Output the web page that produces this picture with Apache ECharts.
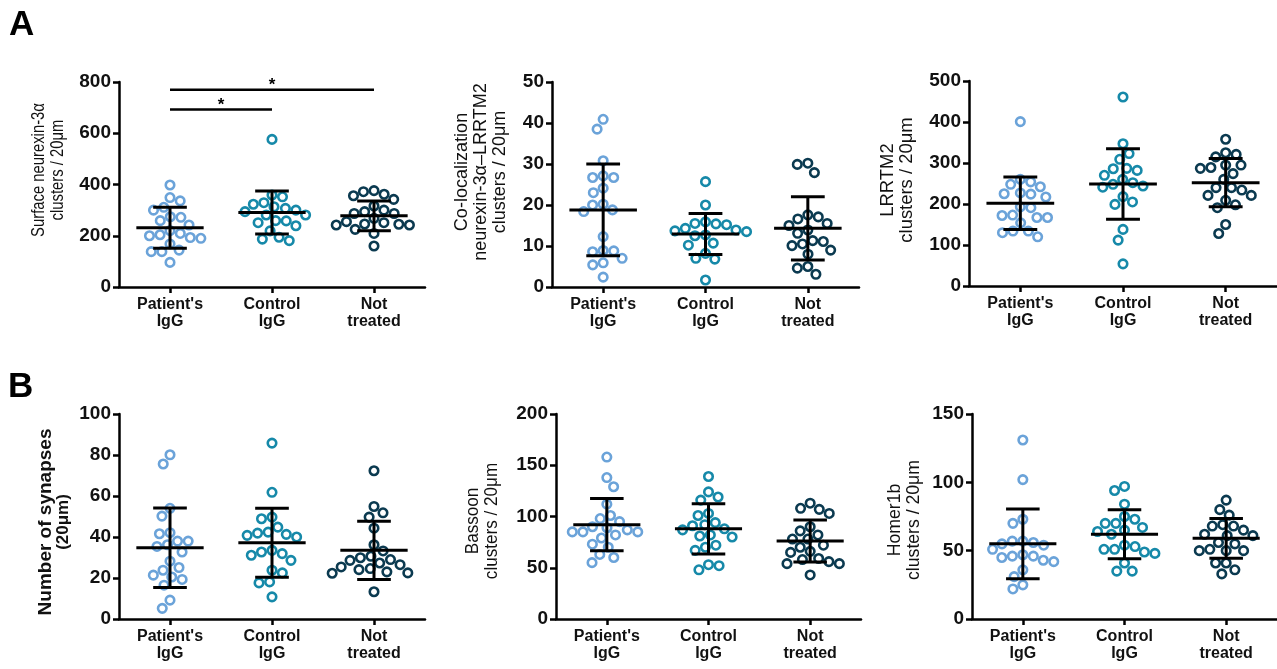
<!DOCTYPE html>
<html><head><meta charset="utf-8">
<script src="https://cdn.jsdelivr.net/npm/echarts@6/dist/echarts.min.js"></script>
<style>html,body{margin:0;padding:0;background:#fff}#c{width:1277px;height:669px}</style>
</head><body><div id="c"></div>
<script>
// ---------- DATA ----------
const categories = ["Patient's\nIgG", "Control\nIgG", "Not\ntreated"];

// A1: Surface neurexin-3α clusters / 20μm
const a1Patient = [398,336,349,300,311,272,259,274,242,220,204,193,200,209,190,168,138,144,138,96];
const a1Control = [576,359,352,323,329,307,294,300,313,281,281,259,251,239,258,219,194,181,187];
const a1NotTreated = [362,372,376,356,342,316,300,287,294,287,251,242,245,255,268,242,246,225,209,160];
const a1Mean = [231, 291, 278];
const a1Sd = [80, 84, 58];
const a1Axis = [800, 200];          // max, step
const a1SigFrom = [0, 0];
const a1SigTo = [1, 2];
const a1SigLevel = [693, 770];
const a1SigLabel = ['*', '*'];

// A2: Co-localization neurexin-3α–LRRTM2 clusters / 20μm
const a2Patient = [40.9,38.5,30.8,26.7,26.7,27.1,24.1,23.0,20.2,18.8,18.4,20.0,12.3,8.8,7.0,5.9,5.4,8.6,8.9,2.4];
const a2Control = [25.7,20.0,15.4,15.2,12.7,13.5,13.7,13.9,14.3,15.5,15.9,10.7,12.5,10.2,8.2,7.0,6.8,1.7];
const a2NotTreated = [30.2,27.9,29.9,17.6,17.1,16.6,15.5,15.0,13.9,13.1,10.5,11.1,11.3,10.1,9.0,8.0,5.0,3.1,4.6];
const a2Mean = [18.8, 12.9, 14.3];
const a2Sd = [11.2, 5.0, 7.7];
const a2Axis = [50, 10];

// A3: LRRTM2 clusters / 20μm
const a3Patient = [401,254,242,260,248,217,225,224,227,191,193,172,167,154,167,173,134,120,130,134];
const a3Control = [461,347,323,309,287,282,286,270,260,248,244,241,252,218,199,205,138,112,54];
const a3NotTreated = [358,325,321,315,295,287,289,295,274,260,240,234,240,221,221,198,191,209,150,128];
const a3Mean = [202, 249, 252];
const a3Sd = [64, 86, 59];
const a3Axis = [500, 100];

// B1: Number of synapses (20μm)
const b1Patient = [75.6,80.1,54.0,50.2,41.6,42.1,38.0,35.4,32.7,36.2,38.0,28.2,23.8,25.1,21.4,19.3,16.5,20.5,9.2,5.2];
const b1Control = [85.8,61.8,49.7,48.9,42.4,41.3,40.0,40.8,41.9,44.8,33.5,31.9,28.6,31.1,32.7,23.8,22.5,18.1,17.6,10.8];
const b1NotTreated = [72.3,54.9,51.8,49.7,44.3,36.2,33.2,27.3,25.4,29.9,28.6,29.0,30.6,24.1,22.5,22.3,23.0,24.6,26.5,13.3];
const b1Mean = [34.8, 37.2, 33.5];
const b1Sd = [19.4, 16.8, 14.2];
const b1Axis = [100, 20];

// B2: Bassoon clusters / 20μm
const b2Patient = [158,138,129,112,101,98,90,85,85,82,85,87,89,95,73,79,70,63,60,55];
const b2Control = [139,124,116,119,103,101,94,92,91,88,82,80,81,87,70,67,72,53,52,48];
const b2NotTreated = [108,103,107,113,90,86,82,78,78,70,72,66,65,58,54,56,54,59,43];
const b2Mean = [92, 88, 76];
const b2Sd = [25.5, 24.5, 20.5];
const b2Axis = [200, 50];

// B3: Homer1b clusters / 20μm
const b3Patient = [131,102,73,70,57,56,54,57,51,55,46,45,42,43,46,47,36,31,25,22];
const b3Control = [97,94,84,75,73,70,65,62,64,67,70,54,51,48,49,51,53,41,35,35];
const b3NotTreated = [87,80,76,69,68,68,62,61,61,65,56,51,50,50,50,55,41,41,33,36];
const b3Mean = [55, 62, 59];
const b3Sd = [25.5, 18, 14.5];
const b3Axis = [150, 50];

// ---------- LAYOUT / STYLE ----------
const FONT = '"Liberation Sans", Arial, Helvetica, sans-serif';
const groupColors = ['#6ba3d9', '#1689a9', '#0b3a50'];
const grids = [
  {left: 119, top: 82, width: 306, height: 205},
  {left: 552, top: 82, width: 307, height: 205},
  {left: 969, top: 81, width: 309, height: 205},
  {left: 119, top: 414, width: 306, height: 205},
  {left: 556, top: 414, width: 305, height: 205},
  {left: 972, top: 414, width: 306, height: 205}
];
const panels = [
  {groups: [a1Patient, a1Control, a1NotTreated], mean: a1Mean, sd: a1Sd, axis: a1Axis},
  {groups: [a2Patient, a2Control, a2NotTreated], mean: a2Mean, sd: a2Sd, axis: a2Axis},
  {groups: [a3Patient, a3Control, a3NotTreated], mean: a3Mean, sd: a3Sd, axis: a3Axis},
  {groups: [b1Patient, b1Control, b1NotTreated], mean: b1Mean, sd: b1Sd, axis: b1Axis},
  {groups: [b2Patient, b2Control, b2NotTreated], mean: b2Mean, sd: b2Sd, axis: b2Axis},
  {groups: [b3Patient, b3Control, b3NotTreated], mean: b3Mean, sd: b3Sd, axis: b3Axis}
];

// beeswarm: horizontal offsets (px) so markers don't overlap (elliptic exclusion -> row-like layout)
function swarm(values, pxPerUnit, dh, dv) {
  const idx = values.map((v, i) => i).sort((a, b) => values[b] - values[a]);
  const placed = [];
  const off = new Array(values.length).fill(0);
  const clash = (p, x, y) => ((p.x - x) / dh) ** 2 + ((p.y - y) / dv) ** 2 < 0.999;
  idx.forEach((i, n) => {
    const y = values[i] * pxPerUnit;
    const cands = [0];
    placed.forEach(p => {
      const dy = Math.abs(p.y - y);
      if (dy < dv) { const dx = dh * Math.sqrt(1 - (dy / dv) ** 2); cands.push(p.x + dx, p.x - dx); }
    });
    cands.sort((a, b) => Math.abs(a) - Math.abs(b) || (n % 2 ? a - b : b - a));
    let chosen = 0;
    for (const c of cands) {
      if (!placed.some(p => clash(p, c, y))) { chosen = c; break; }
    }
    placed.push({x: chosen, y: y});
    off[i] = chosen;
  });
  return off;
}

const xAxes = [], yAxes = [], series = [];
panels.forEach((p, k) => {
  const g = grids[k];
  xAxes.push({
    type: 'category', gridIndex: k, data: categories, boundaryGap: true,
    axisLine: {show: true, onZero: false, lineStyle: {color: '#000', width: 2.5}},
    axisTick: {show: true, alignWithLabel: true, length: 6, lineStyle: {color: '#000', width: 2.5}},
    axisLabel: {interval: 0, color: '#111', fontFamily: FONT, fontWeight: 'bold', fontSize: 16, lineHeight: 17, margin: 9},
    splitLine: {show: false}
  });
  xAxes.push({type: 'value', gridIndex: k, min: -0.5, max: 2.5, show: false});
  yAxes.push({
    type: 'value', gridIndex: k, min: 0, max: p.axis[0], interval: p.axis[1],
    axisLine: {show: true, onZero: false, lineStyle: {color: '#000', width: 2.5}},
    axisTick: {show: true, length: 6, lineStyle: {color: '#000', width: 2.5}},
    axisLabel: {color: '#111', fontFamily: FONT, fontWeight: 'bold', fontSize: 19, margin: 8},
    splitLine: {show: false}
  });
  const band = g.width / 3;
  const pxPerUnit = g.height / p.axis[0];
  p.groups.forEach((vals, gi) => {
    const off = swarm(vals, pxPerUnit, 10.6, 12);
    series.push({
      type: 'scatter', xAxisIndex: 2 * k + 1, yAxisIndex: k,
      symbol: 'circle', symbolSize: 8.5,
      itemStyle: {color: '#fff', borderColor: groupColors[gi], borderWidth: 2.6, opacity: 1},
      data: vals.map((v, i) => [gi + off[i] / band, v]),
      z: 2, silent: true
    });
  });
  series.push({
    type: 'custom', xAxisIndex: 2 * k + 1, yAxisIndex: k, z: 5, silent: true,
    data: p.mean.map((m, gi) => [gi, m, p.sd[gi]]),
    encode: {x: 0, y: 1},
    renderItem: function (params, api) {
      const c = api.value(0), m = api.value(1), s = api.value(2);
      const top = api.coord([c, m + s]), bot = api.coord([c, m - s]);
      const ml = api.coord([c - 0.33, m]), mr = api.coord([c + 0.33, m]);
      const cl = api.coord([c - 0.165, m + s])[0], cr = api.coord([c + 0.165, m + s])[0];
      const st = {stroke: '#000', lineWidth: 3};
      return {type: 'group', children: [
        {type: 'line', shape: {x1: top[0], y1: top[1], x2: bot[0], y2: bot[1]}, style: st},
        {type: 'line', shape: {x1: cl, y1: top[1], x2: cr, y2: top[1]}, style: st},
        {type: 'line', shape: {x1: cl, y1: bot[1], x2: cr, y2: bot[1]}, style: st},
        {type: 'line', shape: {x1: ml[0], y1: ml[1], x2: mr[0], y2: mr[1]}, style: st}
      ]};
    }
  });
});

// significance bars (panel A1)
series.push({
  type: 'custom', xAxisIndex: 1, yAxisIndex: 0, z: 6, silent: true,
  data: a1SigLevel.map((lv, i) => [a1SigFrom[i], lv, a1SigTo[i], i]),
  encode: {x: 0, y: 1},
  renderItem: function (params, api) {
    const a = api.coord([api.value(0), api.value(1)]);
    const b = api.coord([api.value(2), api.value(1)]);
    const lbl = a1SigLabel[api.value(3)];
    return {type: 'group', children: [
      {type: 'line', shape: {x1: a[0], y1: a[1], x2: b[0], y2: b[1]}, style: {stroke: '#000', lineWidth: 2.5}},
      {type: 'text', style: {text: lbl, x: (a[0] + b[0]) / 2, y: a[1] - 4, font: 'bold 17px ' + FONT, fill: '#000',
        align: 'center', verticalAlign: 'middle', textAlign: 'center', textVerticalAlign: 'middle'}}
    ]};
  }
});

function vtitle(x, y, text, size, sx) {
  return {
    type: 'text', x: x, y: y, rotation: Math.PI / 2, scaleX: sx || 1, silent: true,
    style: {text: text, font: size + 'px ' + FONT, fill: '#111', lineHeight: 19,
      align: 'center', verticalAlign: 'middle', textAlign: 'center', textVerticalAlign: 'middle'}
  };
}

const graphics = [
  {type: 'text', x: 9, y: 8, silent: true, style: {text: 'A', font: 'bold 35px ' + FONT, fill: '#000'}},
  {type: 'text', x: 8, y: 370, silent: true, style: {text: 'B', font: 'bold 35px ' + FONT, fill: '#000'}},
  vtitle(48, 170, 'Surface neurexin-3α\nclusters / 20μm', 19, 0.78),
  vtitle(481, 172, 'Co-localization\nneurexin-3α–LRRTM2\nclusters / 20μm', 19, 0.95),
  vtitle(897, 180, 'LRRTM2\nclusters / 20μm', 19, 0.97),
  {type: 'text', x: 54, y: 522, rotation: Math.PI / 2, silent: true,
   style: {text: '{a|Number of synapses}\n{b|(20μm)}', align: 'center', verticalAlign: 'middle',
     textAlign: 'center', textVerticalAlign: 'middle',
     rich: {a: {fontFamily: FONT, fontWeight: 'bold', fontSize: 19, lineHeight: 18, fill: '#111', color: '#111'},
            b: {fontFamily: FONT, fontWeight: 'bold', fontSize: 17, lineHeight: 17, fill: '#111', color: '#111'}}}},
  vtitle(483, 521, 'Bassoon\nclusters / 20μm', 18, 0.95),
  vtitle(905, 520, 'Homer1b\nclusters / 20μm', 18, 0.98)
];

const chart = echarts.init(document.getElementById('c'), null, {renderer: 'canvas'});
chart.setOption({
  animation: false,
  backgroundColor: '#fff',
  grid: grids.map(g => Object.assign({containLabel: false}, g)),
  xAxis: xAxes,
  yAxis: yAxes,
  series: series,
  graphic: graphics
});
</script></body></html>
